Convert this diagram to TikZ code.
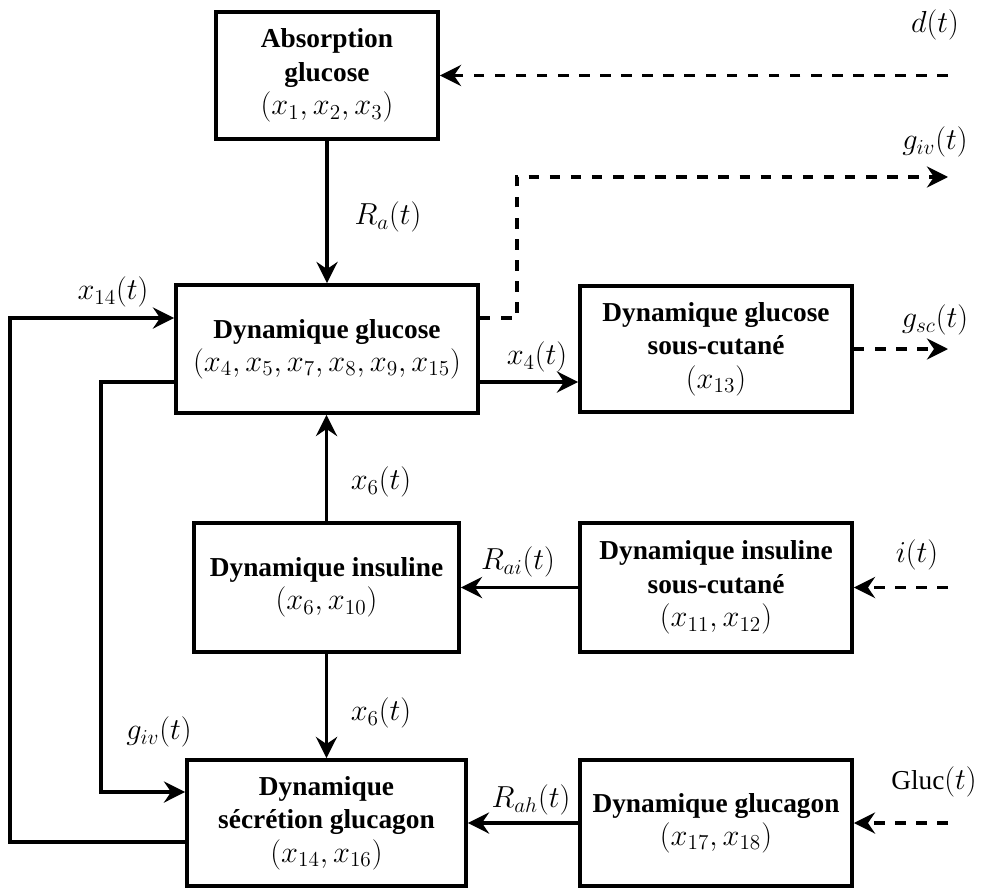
\documentclass[tikz,border=0pt]{standalone}
\usepackage{fix-cm}
\usepackage{fontspec}
\setmainfont{Liberation Serif}[Scale=0.9]
\usetikzlibrary{arrows.meta}
\begin{document}
\begin{tikzpicture}[x=0.02cm, y=-0.02cm, line width=2.2pt,
  >={Stealth[length=12pt,width=12pt,inset=4pt]},
  bloc/.style={draw, rectangle, align=center, inner sep=0pt,
    font=\fontsize{17.3}{19}\selectfont\bfseries},
  lbl/.style={font=\fontsize{17.3}{19}\selectfont},
  pointille/.style={dash pattern=on 6pt off 6pt}]

\def \px {0.02cm}
\useasboundingbox (0,0) rectangle (982,888);
% blocs
  \node[bloc, minimum width=222*\px, minimum height=127*\px] (abs) at (327,75.5) {Absorption\\glucose\\$(x_1,x_2,x_3)$};
  \node[bloc, minimum width=302*\px, minimum height=128*\px] (glu) at (327,349) {Dynamique glucose\\$(x_4,x_5,x_7,x_8,x_9,x_{15})$};
  \node[bloc, minimum width=272*\px, minimum height=126*\px] (glusc) at (716,349) {Dynamique glucose\\sous-cutané\\$(x_{13})$};
  \node[bloc, minimum width=265*\px, minimum height=129*\px] (ins) at (326.5,587.5) {Dynamique insuline\\$(x_6,x_{10})$};
  \node[bloc, minimum width=272*\px, minimum height=129*\px] (inssc) at (716,587.5) {Dynamique insuline\\sous-cutané\\$(x_{11},x_{12})$};
  \node[bloc, minimum width=279*\px, minimum height=126*\px] (sec) at (326.5,823) {Dynamique\\sécrétion glucagon\\$(x_{14},x_{16})$};
  \node[bloc, minimum width=272*\px, minimum height=126*\px] (gcg) at (716,823) {Dynamique glucagon\\$(x_{17},x_{18})$};
%
  \coordinate (dIn) at (948,75.5);
  \coordinate (givOut) at (948,177);
  \coordinate (gscOut) at (948,349);
  \coordinate (iIn) at (948,587.5);
  \coordinate (glucIn) at (948,823);
% fleches
  \draw[->, pointille] (dIn) -- (abs.east);
  \node[lbl] (ld) at (935,25) {$d(t)$};
  \draw[->] (abs.south) -- (glu.north);
  \node[lbl] (lRa) at (388,217) {$R_a(t)$};
  \draw[->, pointille] ([yshift=0.62cm]glu.east) -- ++(37,0) |- (givOut);
  \node[lbl] (lgivout) at (935,142) {$g_{iv}(t)$};
  \draw[->] ([yshift=-0.66cm]glu.east) -- ([yshift=-0.66cm]glu.east -| glusc.west);
  \node[lbl] (lx4) at (537,357) {$x_4(t)$};
  \draw[->, pointille] (glusc.east) -- (gscOut);
  \node[lbl] (lgsc) at (935,320) {$g_{sc}(t)$};
%
  \draw[->] (ins.north) -- (ins.north |- glu.south);
  \node[lbl] (lx6a) at (381,482) {$x_6(t)$};
  \draw[->] (inssc.west) -- (inssc.west -| ins.east);
  \node[lbl] (lRai) at (518,562) {$R_{ai}(t)$};
  \draw[->, pointille] (iIn) -- (inssc.east);
  \node[lbl] (li) at (917,555) {$i(t)$};
  \draw[->] (ins.south) -- (ins.south |- sec.north);
  \node[lbl] (lx6b) at (381,713) {$x_6(t)$};
%
  \draw[->] (gcg.west) -- (gcg.west -| sec.east);
  \node[lbl] (lRah) at (531,800) {$R_{ah}(t)$};
  \draw[->, pointille] (glucIn) -- (gcg.east);
  \node[lbl] (lgluc) at (934,782) {$\mathrm{Gluc}(t)$};
% retours
  \draw[->] ([yshift=-0.38cm]sec.west) -- ++(-175,0) |- ([yshift=0.62cm]glu.west);
  \node[lbl] (lx14) at (113,292) {$x_{14}(t)$};
  \draw[->] ([yshift=-0.66cm]glu.west) -- ++(-73,0) |- ([yshift=0.62cm]sec.west);
  \node[lbl] (lgivin) at (159,732) {$g_{iv}(t)$};
%
\end{tikzpicture}
\end{document}
